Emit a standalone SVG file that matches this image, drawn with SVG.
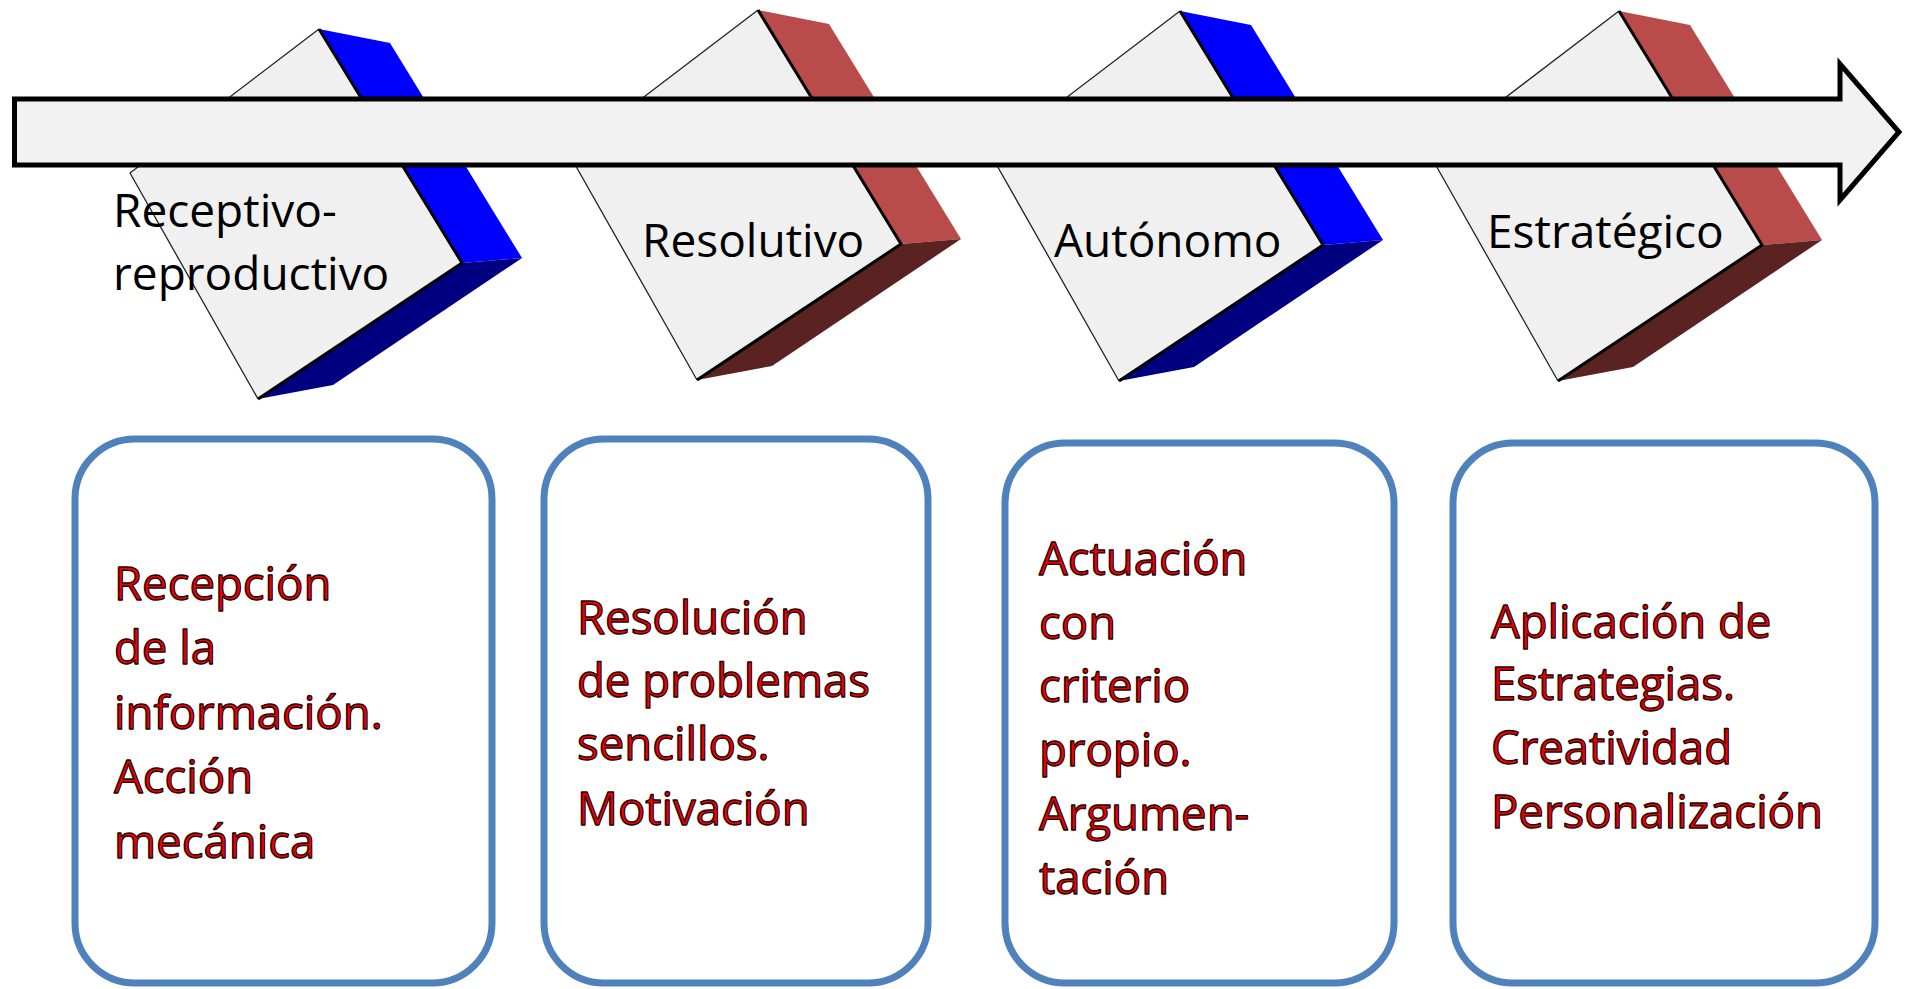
<svg xmlns="http://www.w3.org/2000/svg" width="1912" height="989" viewBox="0 0 1912 989">
<style>
.front{fill:#f0f0f0;stroke:none}
.sideB{fill:#0000ff}
.botB{fill:#000080}
.sideR{fill:#b94c4a}
.botR{fill:#5b2222}
.thick{fill:none;stroke:#000;stroke-width:3;stroke-linejoin:round}
.thin{fill:none;stroke:#222;stroke-width:1.3;stroke-linejoin:round}
.lbl{font-family:"Open Sans","Noto Sans",sans-serif;font-size:46px;fill:#000}
.box{fill:#fff;stroke:#4f81bd;stroke-width:7}
.txt{font-family:"Open Sans","Noto Sans",sans-serif;font-size:45.5px;fill:#ee0000;stroke:#1a0000;stroke-width:1.3;stroke-linejoin:round}
.arrow{fill:#f2f2f2;stroke:#000;stroke-width:5;stroke-linejoin:miter}
</style>
<defs>
<g id="blockGeo">
<polygon class="front" points="0,0 143,234 -61,370 -189,144"/>
<polyline class="thin" points="0,0 -189,144 -61,370"/>
<polyline class="thick" points="0,0 143,234 -61,370"/>
</g>
</defs>
<g id="block1" transform="translate(319,29)">
<polygon class="sideB" points="0,0 71,14 203,229 143,234"/>
<polygon class="botB" points="143,234 203,229 14,356 -61,370"/>
<use href="#blockGeo"/>
</g>
<g id="block2" transform="translate(758,10)">
<polygon class="sideR" points="0,0 71,14 203,229 143,234"/>
<polygon class="botR" points="143,234 203,229 14,356 -61,370"/>
<use href="#blockGeo"/>
</g>
<g id="block3" transform="translate(1180,11)">
<polygon class="sideB" points="0,0 71,14 203,229 143,234"/>
<polygon class="botB" points="143,234 203,229 14,356 -61,370"/>
<use href="#blockGeo"/>
</g>
<g id="block4" transform="translate(1619,11)">
<polygon class="sideR" points="0,0 71,14 203,229 143,234"/>
<polygon class="botR" points="143,234 203,229 14,356 -61,370"/>
<use href="#blockGeo"/>
</g>
<g id="connectors">
<polygon class="arrow" points="14.5,99 1840,99 1840,64 1899,132 1840,200 1840,165 14.5,165"/>
</g>
<g id="labels">
<text class="lbl" x="113" y="227">Receptivo-</text>
<text class="lbl" x="113" y="290">reproductivo</text>
<text class="lbl" x="642" y="257">Resolutivo</text>
<text class="lbl" x="1054" y="257">Autónomo</text>
<text class="lbl" x="1487" y="248">Estratégico</text>
</g>
<g id="box1">
<rect class="box" x="75" y="439" width="417" height="544" rx="60" ry="60"/>
<text class="txt" x="114" y="600">Recepción</text>
<text class="txt" x="114" y="664">de la</text>
<text class="txt" x="114" y="729">información.</text>
<text class="txt" x="114" y="793">Acción</text>
<text class="txt" x="114" y="858">mecánica</text>
</g>
<g id="box2">
<rect class="box" x="544" y="439" width="384" height="544" rx="60" ry="60"/>
<text class="txt" x="577" y="634">Resolución</text>
<text class="txt" x="577" y="697">de problemas</text>
<text class="txt" x="577" y="760">sencillos.</text>
<text class="txt" x="577" y="825">Motivación</text>
</g>
<g id="box3">
<rect class="box" x="1005" y="443" width="389" height="540" rx="60" ry="60"/>
<text class="txt" x="1039" y="575">Actuación</text>
<text class="txt" x="1039" y="639">con</text>
<text class="txt" x="1039" y="702">criterio</text>
<text class="txt" x="1039" y="766">propio.</text>
<text class="txt" x="1039" y="830">Argumen-</text>
<text class="txt" x="1039" y="894">tación</text>
</g>
<g id="box4">
<rect class="box" x="1453" y="443" width="422" height="540" rx="60" ry="60"/>
<text class="txt" x="1491" y="638">Aplicación de</text>
<text class="txt" x="1491" y="700">Estrategias.</text>
<text class="txt" x="1491" y="764">Creatividad</text>
<text class="txt" x="1491" y="828">Personalización</text>
</g>
</svg>
